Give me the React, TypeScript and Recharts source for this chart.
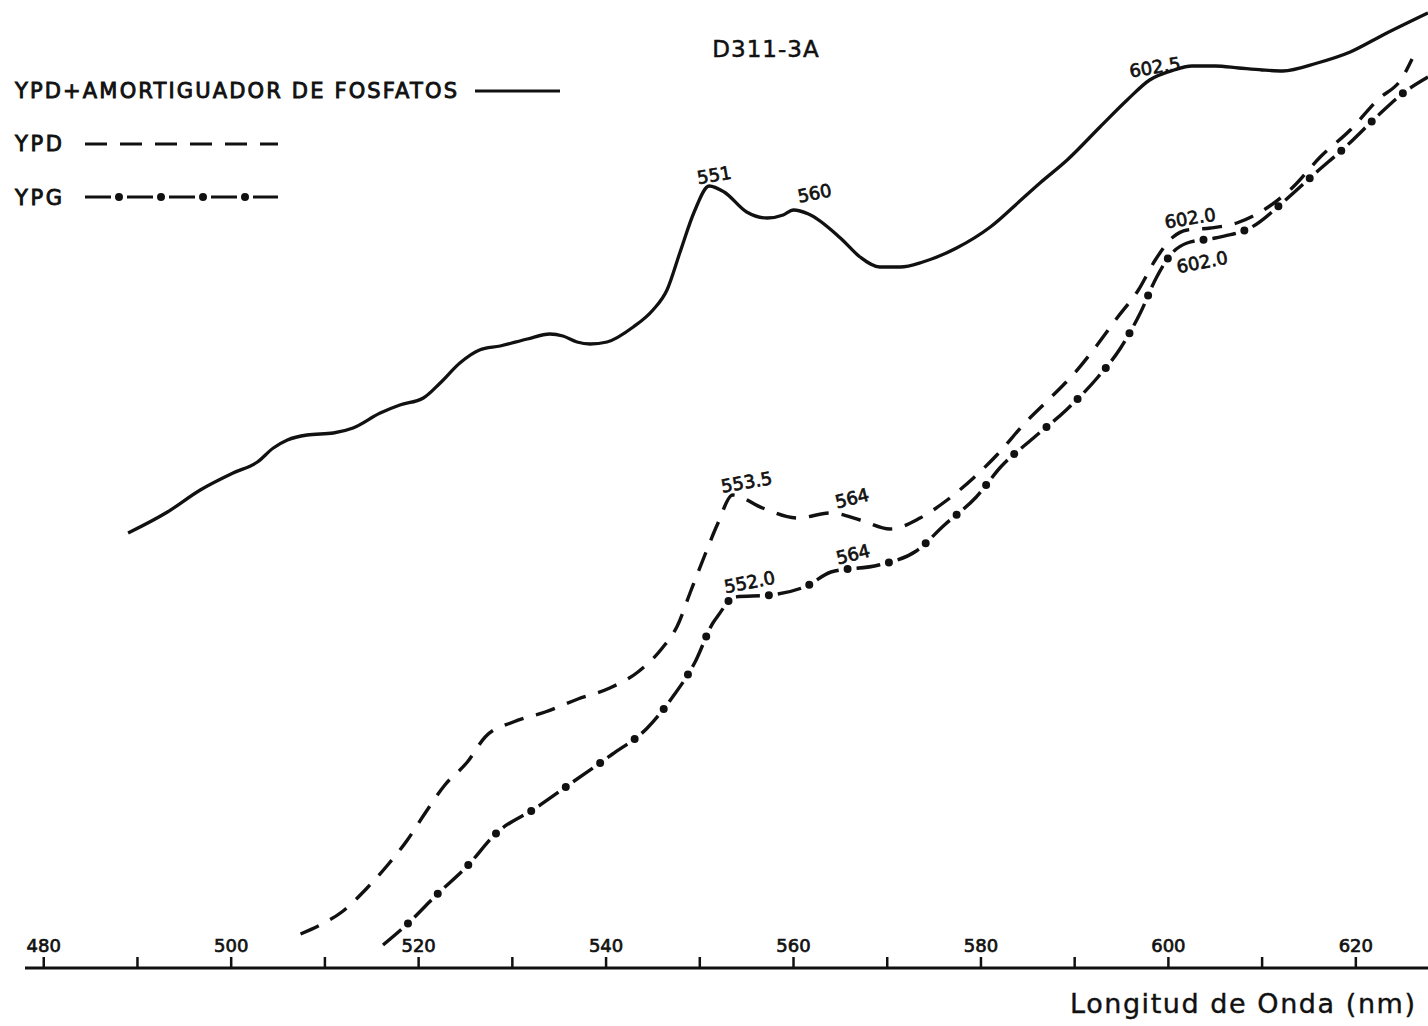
import React from 'react';
import {
  LineChart, Line, XAxis, YAxis, ReferenceDot, Legend, Label, Customized,
} from 'recharts';

const INK = '#111';
const FONT = '"DejaVu Sans", Verdana, sans-serif';
const W = 1428;
const H = 1026;

// YPD + amortiguador de fosfatos (trazo continuo): longitud de onda (nm) / absorbancia relativa
const fosfatoNm = [
  489.0, 493.2, 496.7, 500.2, 502.8, 504.5, 506.0, 508.1, 510.9, 513.0, 515.9, 518.0, 520.5, 522.3,
  524.4, 526.5, 528.7, 531.6, 534.0, 535.4, 536.9, 538.3, 540.1, 542.9, 545.0, 546.5, 547.9, 549.4,
  551.0, 552.6, 555.0, 557.2, 558.9, 560.0, 561.6, 565.0, 567.1, 569.2, 571.4, 573.8, 577.4, 581.0,
  584.5, 586.3, 589.2, 592.7, 595.6, 598.0, 600.6, 602.5, 605.0, 607.5, 610.0, 612.2, 615.9, 619.4,
  622.9, 627.7,
];
const fosfatoAbs = [
  43.5, 45.6, 47.8, 49.5, 50.6, 52.0, 52.8, 53.3, 53.5, 54.0, 55.5, 56.3, 57.0, 58.5,
  60.5, 61.8, 62.2, 62.9, 63.4, 63.2, 62.6, 62.4, 62.6, 64.1, 65.8, 67.8, 71.6, 75.6,
  78.2, 77.6, 75.6, 75.0, 75.3, 75.8, 75.4, 73.0, 71.1, 70.1, 70.1, 70.6, 72.0, 74.1,
  77.0, 78.5, 80.8, 84.1, 86.8, 88.8, 89.8, 90.2, 90.2, 90.0, 89.8, 89.7, 90.5, 91.6,
  93.3, 95.5,
];

// YPD (trazo discontinuo)
const ypdNm = [
  507.4, 509.5, 511.8, 514.5, 516.7, 518.8, 520.7, 522.8, 525.2, 527.1, 530.1, 533.5, 537.0, 540.4,
  543.4, 546.0, 547.6, 549.0, 550.5, 551.9, 553.5, 556.7, 560.4, 564.0, 567.1, 570.3, 573.5, 576.4,
  579.2, 581.7, 584.7, 587.4, 590.0, 592.4, 594.6, 596.8, 598.6, 600.5, 602.0, 604.5, 607.3, 610.5,
  613.3, 616.2, 619.4, 622.3, 625.0, 626.0,
];
const ypdAbs = [
  3.4, 4.3, 5.6, 8.0, 10.3, 12.8, 15.5, 18.3, 20.6, 23.1, 24.6, 25.6, 26.9, 28.0,
  29.6, 32.0, 34.2, 37.6, 41.2, 44.4, 47.3, 46.0, 45.0, 45.5, 44.8, 43.9, 45.0, 46.8,
  49.0, 51.3, 54.5, 57.0, 59.5, 62.3, 65.1, 67.8, 70.8, 73.1, 73.8, 74.0, 74.5, 76.0,
  78.1, 81.1, 83.8, 86.8, 89.1, 90.9,
];

// YPG (trazo y punto)
const ypgNm = [
  516.2, 518.8, 521.9, 525.2, 528.3, 532.5, 536.6, 540.7, 544.4, 547.1, 549.5, 551.4, 552.0, 553.7,
  557.5, 561.4, 564.0, 569.1, 573.1, 576.1, 579.5, 582.2, 585.6, 589.1, 592.4, 594.9, 597.0, 598.7,
  600.5, 602.0, 605.0, 608.9, 612.5, 615.7, 619.0, 622.2, 625.2, 627.7,
];
const ypgAbs = [
  2.3, 4.4, 7.3, 10.2, 13.5, 16.0, 18.7, 21.4, 24.0, 27.1, 30.6, 34.5, 35.3, 37.1,
  37.3, 38.2, 39.6, 40.3, 41.7, 44.3, 47.1, 50.2, 53.0, 55.8, 59.0, 62.0, 65.5, 69.0,
  71.6, 72.5, 73.0, 74.1, 76.8, 79.5, 82.2, 85.1, 87.6, 89.1,
];

const axisTicks = [480, 490, 500, 510, 520, 530, 540, 550, 560, 570, 580, 590, 600, 610, 620];
const labelledTicks = [480, 500, 520, 540, 560, 580, 600, 620];

// maxima marked on each curve (nm)
const fosfatoPeaks = ['551', '560', '602.5'];
const ypdPeaks = ['553.5', '564', '602.0'];
const ypgPeaks = ['552.0', '564', '602.0'];

const toPoints = (nm: number[], abs: number[]) => nm.map((x, i) => ({ nm: x, abs: abs[i] }));
const fosfato = toPoints(fosfatoNm, fosfatoAbs);
const ypd = toPoints(ypdNm, ypdAbs);
const ypg = toPoints(ypgNm, ypgAbs);

// where each peak label sits relative to its point (text centre offset + tilt)
const peakPlacement: Record<string, { dx: number; dy: number; angle: number }[]> = {
  fosfato: [
    { dx: 5, dy: -11, angle: -10 },
    { dx: 21, dy: -17, angle: -11 },
    { dx: -37, dy: 1, angle: -9 },
  ],
  ypd: [
    { dx: 14, dy: -13, angle: -10 },
    { dx: 21, dy: -15, angle: -14 },
    { dx: 3, dy: -12, angle: -9 },
  ],
  ypg: [
    { dx: 31, dy: -33, angle: -11 },
    { dx: 22, dy: -18, angle: -14 },
    { dx: 15, dy: 19, angle: -11 },
  ],
};

const peakMarks = [
  { key: 'fosfato', labels: fosfatoPeaks, nm: fosfatoNm, abs: fosfatoAbs },
  { key: 'ypd', labels: ypdPeaks, nm: ypdNm, abs: ypdAbs },
  { key: 'ypg', labels: ypgPeaks, nm: ypgNm, abs: ypgAbs },
].flatMap((s) =>
  s.labels.map((text, i) => {
    const x = parseFloat(text);
    return { id: `${s.key}-${i}`, text, x, y: s.abs[s.nm.indexOf(x)], ...peakPlacement[s.key][i] };
  })
);

const legendRows: Record<string, any> = {
  'YPD+AMORTIGUADOR DE FOSFATOS': { textY: 98, textLength: 442, x1: 475, x2: 560, y: 91 },
  YPD: { textY: 151, textLength: 47, x1: 85, x2: 278, y: 144, dash: '22 13' },
  YPG: { textY: 205, textLength: 47, x1: 85, x2: 278, y: 197, dash: '26 16', dots: true },
};

function LegendBlock({ payload }: any) {
  return (
    <svg width={600} height={230} style={{ display: 'block' }}>
      {(payload || []).map((entry: any) => {
        const row = legendRows[entry.value];
        if (!row) return null;
        return (
          <g key={entry.value}>
            <text
              x={15} y={row.textY} textLength={row.textLength} lengthAdjust="spacing"
              fontFamily={FONT} fontSize={21} fill={INK} stroke={INK} strokeWidth={0.9}
            >
              {entry.value}
            </text>
            <line x1={row.x1} x2={row.x2} y1={row.y} y2={row.y} stroke={INK} strokeWidth={3.2}
              strokeDasharray={row.dash} />
            {row.dots && (
              <line x1={row.x1} x2={row.x2} y1={row.y} y2={row.y} stroke={INK} strokeWidth={8}
                strokeLinecap="round" strokeDasharray="0 42" strokeDashoffset={8} />
            )}
          </g>
        );
      })}
    </svg>
  );
}

function AxisTick({ x, y, payload }: any) {
  const v = payload.value;
  return (
    <g>
      <line x1={x} x2={x} y1={y} y2={y - 11} stroke={INK} strokeWidth={2.5} />
      {labelledTicks.includes(v) && (
        <text x={x} y={y - 16} textAnchor="middle" fontFamily={FONT} fontSize={18}
          fill={INK} stroke={INK} strokeWidth={0.7}>
          {v}
        </text>
      )}
    </g>
  );
}

function AxisTitle({ viewBox }: any) {
  const { x, y, width } = viewBox;
  return (
    <text x={x + width - 13} y={y + 45} textAnchor="end" textLength={345} lengthAdjust="spacing"
      fontFamily={FONT} fontSize={27} fill={INK} stroke={INK} strokeWidth={0.4}>
      Longitud de Onda (nm)
    </text>
  );
}

function ChartTitle() {
  return (
    <text x={766} y={57} textAnchor="middle" letterSpacing={1}
      fontFamily={FONT} fontSize={23} fill={INK} stroke={INK} strokeWidth={0.5}>
      D311-3A
    </text>
  );
}

function PeakText({ cx, cy, text, dx, dy, angle }: any) {
  const tx = cx + dx;
  const ty = cy + dy;
  return (
    <text x={tx} y={ty} dy="0.36em" textAnchor="middle" transform={`rotate(${angle} ${tx} ${ty})`}
      fontFamily={FONT} fontSize={18} fill={INK} stroke={INK} strokeWidth={0.7}>
      {text}
    </text>
  );
}

export default function App() {
  return (
    <div style={{ position: 'absolute', left: 0, top: 0, width: W, height: H, background: '#fff' }}>
      <LineChart width={W} height={H} margin={{ top: 0, right: 0, bottom: 0, left: 25 }}>
        <XAxis
          dataKey="nm" type="number" domain={[478, 627.7]} allowDataOverflow
          ticks={axisTicks} interval={0} height={58} tickSize={0} tickMargin={0}
          tick={<AxisTick />} tickLine={false} axisLine={{ stroke: INK, strokeWidth: 3 }}
        >
          <Label content={<AxisTitle />} />
        </XAxis>
        <YAxis hide type="number" domain={[0, 96.8]} allowDataOverflow />
        <Legend
          layout="vertical" align="center" verticalAlign="middle"
          wrapperStyle={{ left: 0, top: 0, width: 600, height: 230 }}
          content={<LegendBlock />}
        />
        <Line
          data={fosfato} dataKey="abs" name="YPD+AMORTIGUADOR DE FOSFATOS" type="monotone"
          stroke={INK} strokeWidth={3.3} dot={false} isAnimationActive={false}
        />
        <Line
          data={ypd} dataKey="abs" name="YPD" type="monotone"
          stroke={INK} strokeWidth={3.4} strokeDasharray="20 13" dot={false} isAnimationActive={false}
        />
        <Line
          data={ypg} dataKey="abs" name="YPG" type="monotone"
          stroke={INK} strokeWidth={3.4} strokeDasharray="24 18" dot={false} isAnimationActive={false}
        />
        {/* round dots sitting in the gaps of the YPG dashes */}
        <Line
          data={ypg} dataKey="abs" name="YPG-dots" legendType="none" type="monotone"
          stroke={INK} strokeWidth={8} strokeLinecap="round" strokeDasharray="0 42"
          strokeDashoffset={9} dot={false} isAnimationActive={false}
        />
        {peakMarks.map((p) => (
          <ReferenceDot
            key={p.id} x={p.x} y={p.y} r={0} ifOverflow="visible"
            shape={(props: any) => <PeakText cx={props.cx} cy={props.cy} {...p} />}
          />
        ))}
        <Customized component={<ChartTitle />} />
      </LineChart>
    </div>
  );
}
